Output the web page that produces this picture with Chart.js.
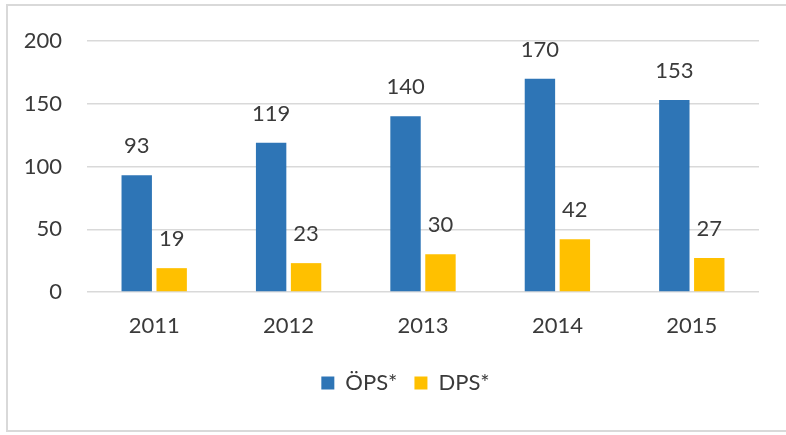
<!DOCTYPE html>
<html>
<head>
<meta charset="utf-8">
<script src="https://cdn.jsdelivr.net/npm/chart.js@4"></script>
<style>
  html, body { margin: 0; padding: 0; background: #fff; }
  #wrap { position: relative; width: 786px; height: 435px; }
</style>
</head>
<body>
<div id="wrap"><canvas id="chart" width="786" height="435"></canvas></div>
<script>
const years = ['2011', '2012', '2013', '2014', '2015'];
const opsValues = [93, 119, 140, 170, 153];
const dpsValues = [19, 23, 30, 42, 27];
const yTicks = [0, 50, 100, 150, 200];

const textColor = '#3a3a3a';
const fontFamily = 'Lato, "Open Sans", sans-serif';

// light frame around the chart (left, top, bottom edges like the original)
const framePlugin = {
    id: 'frame',
    beforeDraw(chart) {
        const ctx = chart.ctx;
        ctx.save();
        ctx.strokeStyle = '#d9d9d9';
        ctx.lineWidth = 2;
        ctx.beginPath();
        ctx.moveTo(chart.width, 5);
        ctx.lineTo(7, 5);
        ctx.lineTo(7, 431);
        ctx.lineTo(chart.width, 431);
        ctx.stroke();
        ctx.restore();
    }
};

// nudge the bottom legend so it sits centred under the plot area
const legendShift = {
    id: 'legendShift',
    afterLayout(chart) {
        const lg = chart.legend;
        if (!lg) return;
        lg.left += 26;
        lg.right += 26;
    }
};

// value labels above each bar
const valueLabels = {
    id: 'valueLabels',
    afterDatasetsDraw(chart) {
        const ctx = chart.ctx;
        ctx.save();
        ctx.fillStyle = textColor;
        ctx.font = '22px ' + fontFamily;
        ctx.textAlign = 'center';
        ctx.textBaseline = 'middle';
        chart.data.datasets.forEach((ds, i) => {
            chart.getDatasetMeta(i).data.forEach((bar, j) => {
                ctx.fillText(String(ds.data[j]), bar.x, bar.y - 29);
            });
        });
        ctx.restore();
    }
};

new Chart(document.getElementById('chart'), {
    type: 'bar',
    data: {
        labels: years,
        datasets: [
            { label: 'ÖPS*', data: opsValues, backgroundColor: '#2E75B6' },
            { label: 'DPS*', data: dpsValues, backgroundColor: '#FFC000' }
        ]
    },
    options: {
        responsive: false,
        animation: false,
        categoryPercentage: 0.52,
        barPercentage: 0.87,
        layout: { padding: { top: 41, right: 27, bottom: 31, left: 0 } },
        plugins: {
            tooltip: { enabled: false },
            legend: {
                position: 'bottom',
                labels: {
                    boxWidth: 13,
                    boxHeight: 13,
                    padding: 17,
                    color: textColor,
                    font: { family: fontFamily, size: 22 }
                }
            }
        },
        scales: {
            x: {
                grid: { display: false },
                border: { display: false },
                ticks: { color: textColor, padding: 13, font: { family: fontFamily, size: 22 } },
                afterFit(scale) { scale.height = 63; }
            },
            y: {
                min: 0,
                max: 200,
                afterBuildTicks(scale) { scale.ticks = yTicks.map(v => ({ value: v })); },
                grid: { color: '#d9d9d9', lineWidth: 1.5, drawTicks: false },
                border: { display: false },
                ticks: { color: textColor, padding: 25, font: { family: fontFamily, size: 22 } },
                afterFit(scale) { scale.width = 87; }
            }
        }
    },
    plugins: [framePlugin, legendShift, valueLabels]
});
</script>
</body>
</html>
